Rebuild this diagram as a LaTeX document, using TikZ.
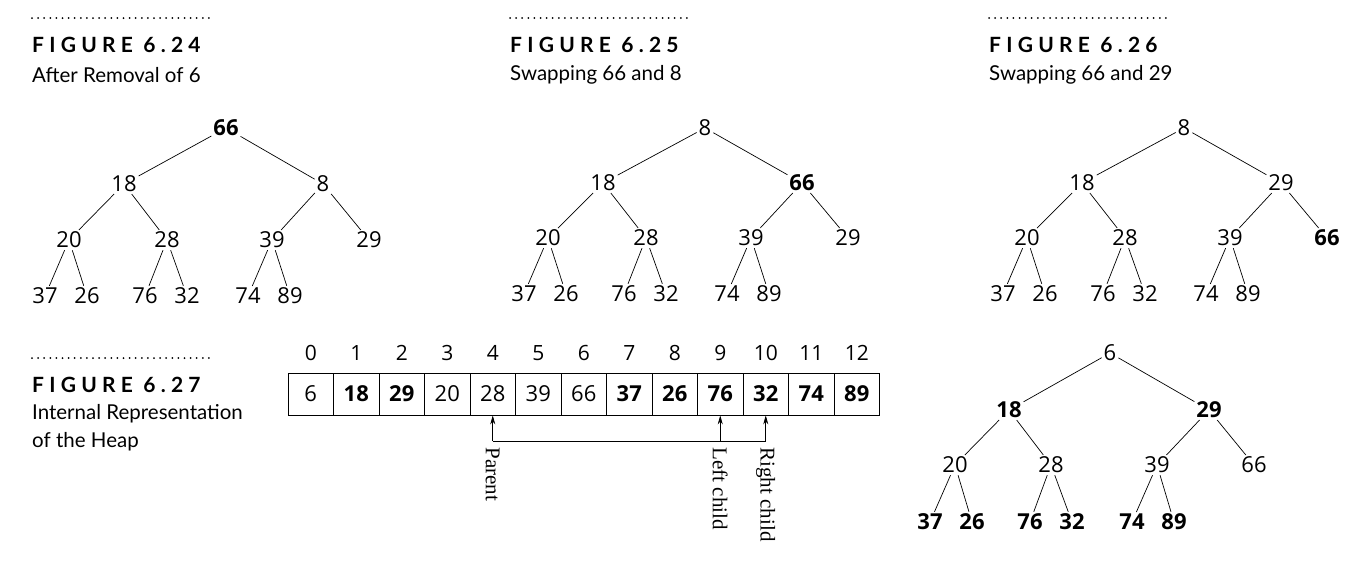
\documentclass[tikz,border=0pt]{standalone}
\usepackage{fontspec}
\setmainfont{Open Sans}
\newfontfamily\headfont[LetterSpace=25]{Lato}
\newfontfamily\capfont{Lato}
\newfontfamily\serifont{Liberation Serif}
\usetikzlibrary{arrows.meta,calc}
\begin{document}
\begin{tikzpicture}[x=1pt,y=-1pt,
  t/.style={inner sep=1pt,font=\fontsize{22}{24}\selectfont},
  b/.style={t,font=\fontsize{22}{24}\selectfont\bfseries},
  e/.style={line width=0.7pt,shorten <=1pt,shorten >=1pt},
  head/.style={anchor=west,inner sep=0,font=\fontsize{21}{24}\headfont\bfseries},
  captxt/.style={anchor=west,inner sep=0,font=\fontsize{20.5}{24}\capfont},
  dots/.style={line width=2pt,dash pattern=on 0pt off 6.1pt,line cap=round},
  cell/.style={draw,line width=0.8pt,minimum width=45.5pt,minimum height=42pt,inner sep=0,font=\fontsize{22}{24}\selectfont},
  bcell/.style={cell,font=\fontsize{22}{24}\selectfont\bfseries},
  idx/.style={inner sep=0,font=\fontsize{21}{24}\selectfont},
  lab/.style={rotate=-90,anchor=west,inner sep=0,font=\fontsize{21}{24}\serifont}]
\useasboundingbox (0,0) rectangle (1370,568);
% headings
\foreach \x/\n/\c in {32/24/After Removal of 6,510/25/Swapping 66 and 8,989/26/Swapping 66 and 29}{
  \draw[dots] (\x,18) -- (\x+183,18);
  \node[head] at (\x,45) {FIGURE 6.\n};
  \node[captxt] at (\x,75) {\c};
}
\draw[dots] (32,358) -- (215,358);
\node[head] (h27) at (32,385) {FIGURE 6.27};
\node[captxt] (c27a) at (32,414) {Internal Representation};
\node[captxt] (c27b) at (32,442) {of the Heap};
% Figure 6.24
\node[b] (a0) at (226,128) {66};
\node[t] (a1) at (124,184) {18}; \node[t] (a2) at (323,184) {8};
\node[t] (a3) at (69,240) {20}; \node[t] (a4) at (167,240) {28};
\node[t] (a5) at (272,240) {39}; \node[t] (a6) at (369,240) {29};
\node[t] (a7) at (45,296) {37}; \node[t] (a8) at (87,296) {26};
\node[t] (a9) at (145,296) {76}; \node[t] (a10) at (187,296) {32};
\node[t] (a11) at (248,296) {74}; \node[t] (a12) at (290,296) {89};
% Figure 6.25
\node[t] (b0) at (705,128) {8};
\node[t] (b1) at (603,183) {18}; \node[b] (b2) at (802,183) {66};
\node[t] (b3) at (548,238) {20}; \node[t] (b4) at (646,238) {28};
\node[t] (b5) at (751,238) {39}; \node[t] (b6) at (848,238) {29};
\node[t] (b7) at (524,294) {37}; \node[t] (b8) at (566,294) {26};
\node[t] (b9) at (624,294) {76}; \node[t] (b10) at (666,294) {32};
\node[t] (b11) at (727,294) {74}; \node[t] (b12) at (769,294) {89};
% Figure 6.26
\node[t] (c0) at (1184,128) {8};
\node[t] (c1) at (1082,183) {18}; \node[t] (c2) at (1281,183) {29};
\node[t] (c3) at (1027,238) {20}; \node[t] (c4) at (1125,238) {28};
\node[t] (c5) at (1230,238) {39}; \node[b] (c6) at (1327,238) {66};
\node[t] (c7) at (1003,294) {37}; \node[t] (c8) at (1045,294) {26};
\node[t] (c9) at (1103,294) {76}; \node[t] (c10) at (1145,294) {32};
\node[t] (c11) at (1206,294) {74}; \node[t] (c12) at (1248,294) {89};
% bottom tree
\node[t] (d0) at (1110,353) {6};
\node[b] (d1) at (1009,410) {18}; \node[b] (d2) at (1209,410) {29};
\node[t] (d3) at (955,465) {20}; \node[t] (d4) at (1051,465) {28};
\node[t] (d5) at (1157,465) {39}; \node[t] (d6) at (1254,465) {66};
\node[b] (d7) at (930,522) {37}; \node[b] (d8) at (972,522) {26};
\node[b] (d9) at (1030,522) {76}; \node[b] (d10) at (1072,522) {32};
\node[b] (d11) at (1132,522) {74}; \node[b] (d12) at (1174,522) {89};
\foreach \p in {a,b,c,d}{
  \draw[e] (\p0) -- (\p1); \draw[e] (\p0) -- (\p2);
  \draw[e] (\p1) -- (\p3); \draw[e] (\p1) -- (\p4);
  \draw[e] (\p2) -- (\p5); \draw[e] (\p2) -- (\p6);
  \draw[e] (\p3) -- (\p7); \draw[e] (\p3) -- (\p8);
  \draw[e] (\p4) -- (\p9); \draw[e] (\p4) -- (\p10);
  \draw[e] (\p5) -- (\p11); \draw[e] (\p5) -- (\p12);
}
% array
\foreach \v/\s [count=\i from 0] in {6/cell,18/bcell,29/bcell,20/cell,28/cell,39/cell,66/cell,37/bcell,26/bcell,76/bcell,32/bcell,74/bcell,89/bcell}{
  \node[\s] (k\i) at (288+22.75+\i*45.5,394) {\v};
  \node[idx] (i\i) at (288+22.75+\i*45.5,353) {\i};
}
\coordinate (p) at ($(k4.south)+(0,26)$);
\coordinate (l) at ($(k9.south)+(0,26)$);
\coordinate (r) at ($(k10.south)+(0,26)$);
\draw[line width=0.7pt] (p) -- (r);
\draw[line width=0.7pt,-{Stealth[length=9pt,width=5pt]}] (p) -- (k4.south);
\draw[line width=0.7pt,-{Stealth[length=9pt,width=5pt]}] (l) -- (k9.south);
\draw[line width=0.7pt,-{Stealth[length=9pt,width=5pt]}] (r) -- (k10.south);
\node[lab] (lp) at ([yshift=-6pt]p) {Parent};
\node[lab] (ll) at ([yshift=-6pt]l) {Left child};
\node[lab] (lr) at ([yshift=-6pt]r) {Right child};
\end{tikzpicture}
\end{document}
